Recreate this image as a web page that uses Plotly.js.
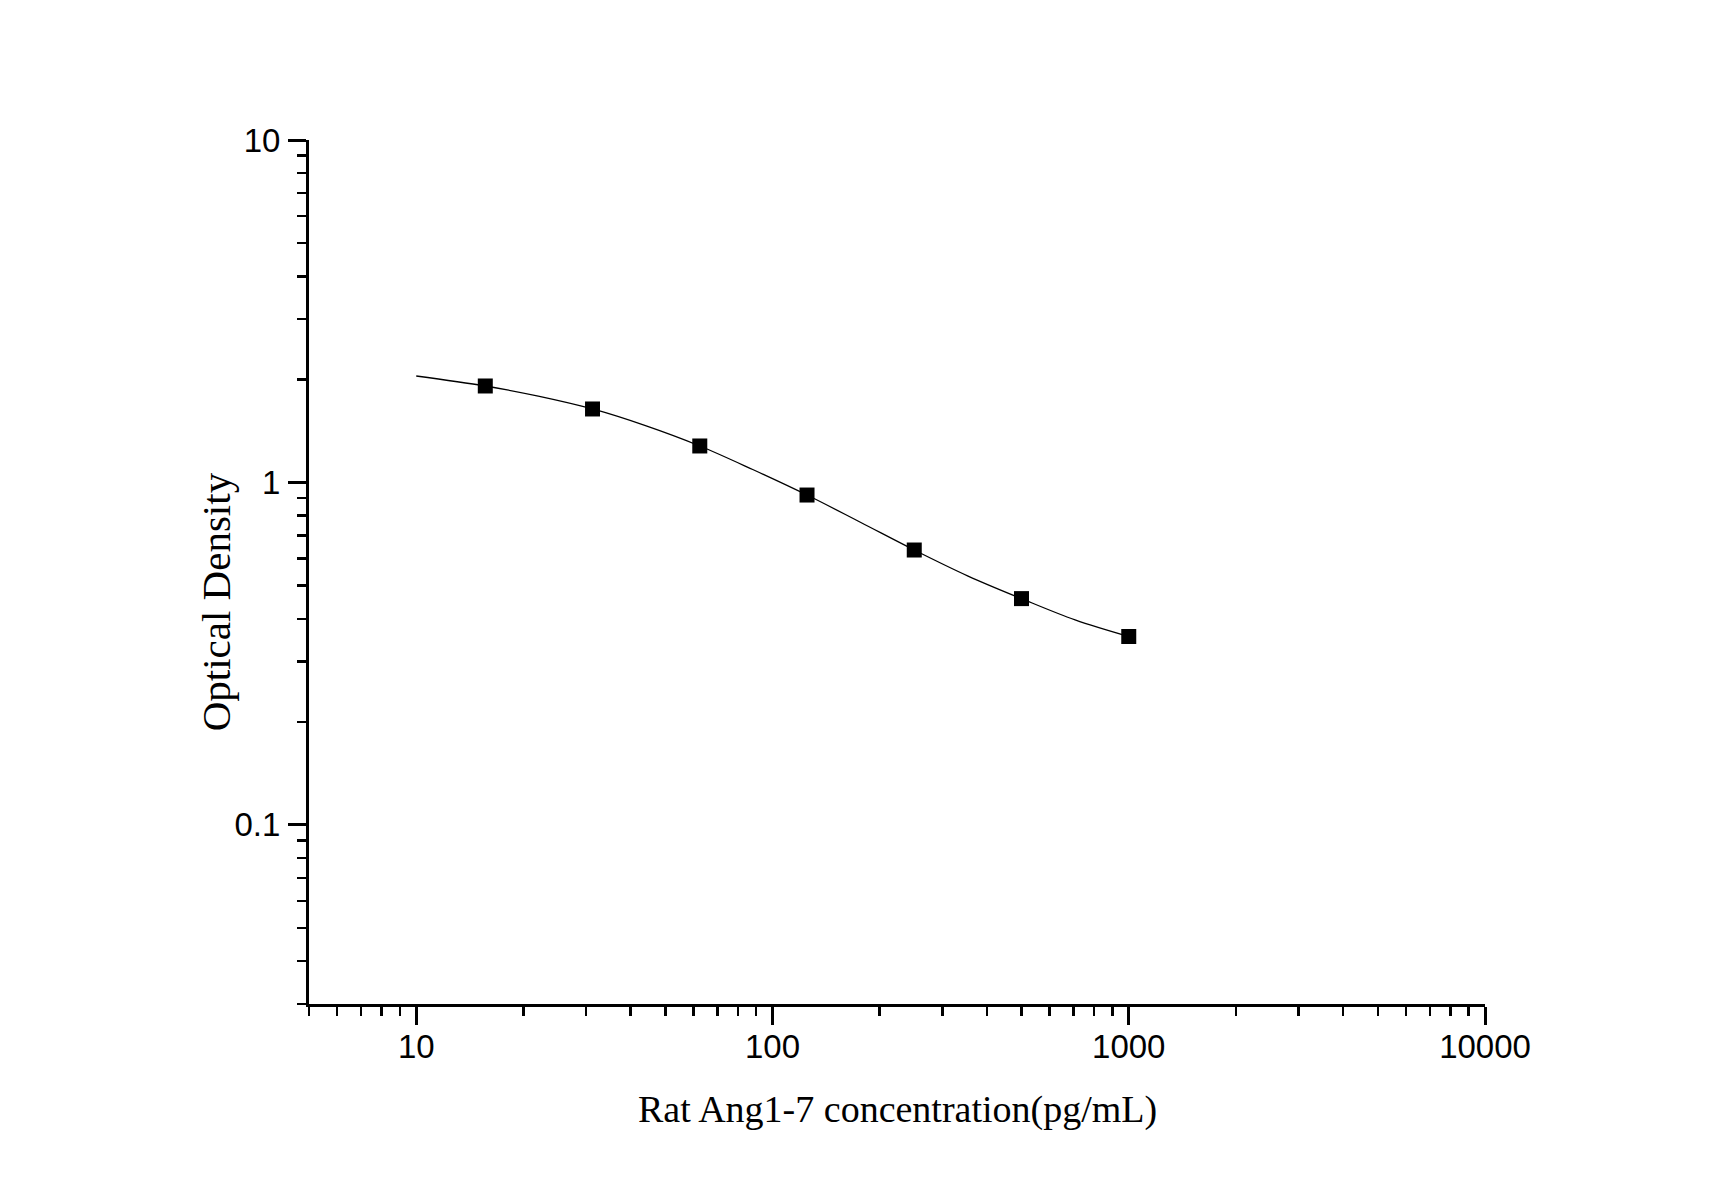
<!DOCTYPE html>
<html>
<head>
<meta charset="utf-8">
<script src="https://cdn.plot.ly/plotly-3.0.1.min.js"></script>
<style>
  html, body { margin: 0; padding: 0; background: #ffffff; }
  #chart { width: 1725px; height: 1204px; }
</style>
</head>
<body>
<div id="chart"></div>
<script>
// Standard points: concentration (pg/mL) and measured optical density
const concentration = [15.625, 31.25, 62.5, 125, 250, 500, 1000];
const opticalDensity = [1.913, 1.639, 1.278, 0.919, 0.635, 0.458, 0.355];

// Fitted standard curve, sampled along its length
const curveConc = [10, 15.625, 22, 31.25, 44, 62.5, 88, 125, 177, 250, 354, 500, 707, 1000];
const curveOD = [2.046, 1.913, 1.787, 1.639, 1.465, 1.278, 1.091, 0.919, 0.764, 0.635, 0.533, 0.458, 0.397, 0.355];

// Axis ticks
const xTickVals = [10, 100, 1000, 10000];
const xTickText = ['10', '100', '1000', '10000'];
const yTickVals = [0.1, 1, 10];
const yTickText = ['0.1', '1', '10'];

// Minor ticks at 2..9 of each decade inside the axis ranges
function minorTicks(lo, hi) {
  const out = [];
  for (let d = Math.floor(Math.log10(lo)); d <= Math.ceil(Math.log10(hi)); d++) {
    for (let m = 2; m <= 9; m++) {
      const v = m * Math.pow(10, d);
      if (v >= lo - 1e-12 && v <= hi + 1e-12) out.push(v);
    }
  }
  return out;
}
const xMinor = minorTicks(5, 10000);
const yMinor = minorTicks(0.03, 10);

const axisCommon = {
  type: 'log',
  showgrid: false,
  zeroline: false,
  showline: true,
  linecolor: '#000000',
  linewidth: 3,
  ticks: 'outside',
  ticklen: 18,
  tickwidth: 3,
  tickcolor: '#000000',
  tickmode: 'array',
  tickfont: { family: 'Liberation Sans, Arial, sans-serif', size: 33, color: '#000000' },
  mirror: false
};

const traces = [
  {
    x: curveConc,
    y: curveOD,
    type: 'scatter',
    mode: 'lines',
    line: { color: '#000000', width: 1.3, shape: 'spline', smoothing: 1 },
    hoverinfo: 'skip',
    showlegend: false
  },
  {
    x: concentration,
    y: opticalDensity,
    type: 'scatter',
    mode: 'markers',
    marker: { symbol: 'square', size: 15, color: '#000000', line: { width: 0 } },
    showlegend: false
  }
];

const layout = {
  width: 1725,
  height: 1204,
  margin: { l: 309, r: 240, t: 140, b: 200 },
  paper_bgcolor: '#ffffff',
  plot_bgcolor: '#ffffff',
  showlegend: false,
  xaxis: Object.assign({}, axisCommon, {
    range: [Math.log10(5), 4],
    tickvals: xTickVals,
    ticktext: xTickText,
    ticklabelstandoff: -7,
    minor: { tickmode: 'array', tickvals: xMinor, ticks: 'outside', ticklen: 9, tickwidth: 2.5, tickcolor: '#000000', showgrid: false }
  }),
  yaxis: Object.assign({}, axisCommon, {
    range: [Math.log10(0.03), 1],
    tickvals: yTickVals,
    ticktext: yTickText,
    ticklabelstandoff: 1,
    minor: { tickmode: 'array', tickvals: yMinor, ticks: 'outside', ticklen: 9, tickwidth: 2.5, tickcolor: '#000000', showgrid: false }
  }),
  annotations: [
    {
      text: 'Rat Ang1-7 concentration(pg/mL)',
      xref: 'paper', yref: 'paper',
      x: 0.5, y: -0.0954,
      xanchor: 'center', yanchor: 'top',
      showarrow: false,
      font: { family: 'Liberation Serif, Times New Roman, serif', size: 38, color: '#000000' }
    },
    {
      text: 'Optical Density',
      xref: 'paper', yref: 'paper',
      x: -0.079, y: 0.465,
      xanchor: 'center', yanchor: 'middle',
      textangle: -90,
      showarrow: false,
      font: { family: 'Liberation Serif, Times New Roman, serif', size: 41, color: '#000000' }
    }
  ]
};

Plotly.newPlot('chart', traces, layout, { displayModeBar: false, staticPlot: true });
</script>
</body>
</html>
